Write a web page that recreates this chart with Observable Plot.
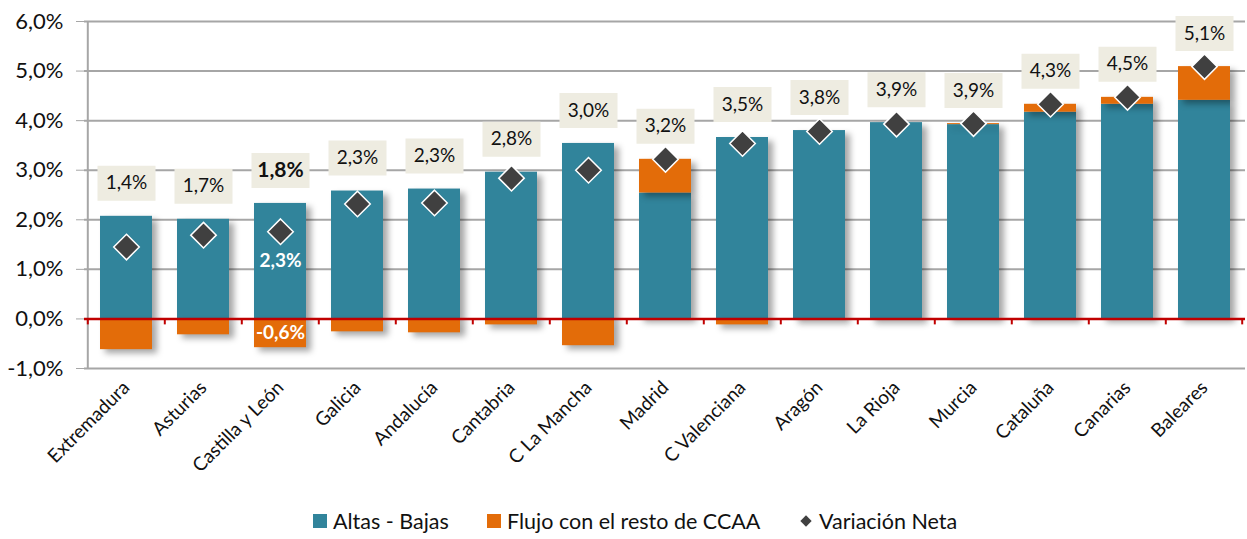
<!DOCTYPE html>
<html><head><meta charset="utf-8">
<script src="https://cdn.jsdelivr.net/npm/d3@7"></script>
<script src="https://cdn.jsdelivr.net/npm/@observablehq/plot@0.6"></script>
<style>
body{margin:0;background:#fff;font-family:Lato,"Liberation Sans",sans-serif;}
#chart{position:relative;width:1247px;height:505px;}
#chart svg g[aria-label="bar"] rect{filter:drop-shadow(5px 4px 3px rgba(0,0,0,0.35));}
.legend{position:relative;height:34px;width:1247px;font-size:21.5px;color:#111;}
.legend .it{position:absolute;top:3px;display:flex;align-items:center;white-space:nowrap;}
.legend .sw{width:14px;height:14px;margin-right:6px;display:inline-block;}
.legend .dm{width:8px;height:8px;background:#404040;transform:rotate(45deg);margin-right:9px;margin-left:3px;display:inline-block;}
</style></head>
<body>
<div id="chart"></div>
<div class="legend">
  <div class="it" style="left:313px"><span class="sw" style="background:#31849b"></span>Altas - Bajas</div>
  <div class="it" style="left:487px"><span class="sw" style="background:#e36c09"></span>Flujo con el resto de CCAA</div>
  <div class="it" style="left:799px"><span class="dm"></span>Variación Neta</div>
</div>
<script>
const regions = ["Extremadura","Asturias","Castilla y León","Galicia","Andalucía","Cantabria","C La Mancha","Madrid","C Valenciana","Aragón","La Rioja","Murcia","Cataluña","Canarias","Baleares"];
const altasBajas = [2.07, 2.01, 2.33, 2.58, 2.62, 2.96, 3.54, 2.54, 3.66, 3.80, 3.96, 3.92, 4.17, 4.33, 4.41];
const flujo      = [-0.62, -0.32, -0.58, -0.26, -0.28, -0.12, -0.54, 0.68, -0.12, -0.02, -0.02, 0.02, 0.16, 0.14, 0.68];
const netas      = [1.45, 1.69, 1.76, 2.32, 2.34, 2.84, 3.00, 3.22, 3.54, 3.78, 3.93, 3.94, 4.33, 4.47, 5.09];
const yTicks = [-1, 0, 1, 2, 3, 4, 5, 6];
const destacado = "Castilla y León";
const series = ["Altas - Bajas", "Flujo con el resto de CCAA"];
const colors = ["#31849b", "#e36c09"];

const fmt = v => v.toFixed(1).replace(".", ",") + "%";

const W = 1247, H = 505, mL = 84, mR = 2, mT = 21, mB = 137;
const step = (W - mL - mR) / regions.length;

const long = [];
regions.forEach((r, i) => long.push({region: r, serie: series[0], value: altasBajas[i]}));
regions.forEach((r, i) => long.push({region: r, serie: series[1], value: flujo[i]}));

const tops = regions.map((r, i) => ({
  region: r,
  top: altasBajas[i] + Math.max(0, flujo[i]),
  net: netas[i],
  label: fmt(netas[i]),
  bold: r === destacado
}));
const normal = tops.filter(d => !d.bold);
const bold = tops.filter(d => d.bold);
const ci = regions.indexOf(destacado);
const inner = [
  {region: destacado, y: altasBajas[ci] / 2, label: fmt(altasBajas[ci])},
  {region: destacado, y: flujo[ci] / 2, label: fmt(flujo[ci])}
];

const boxSymbol = {draw(ctx, size) { ctx.rect(-29, -17.5, 58, 35); }};

const chart = Plot.plot({
  width: W, height: H,
  marginLeft: mL, marginRight: mR, marginTop: mT, marginBottom: mB,
  style: {fontFamily: "Lato, 'Liberation Sans', sans-serif", background: "#fff", color: "#111"},
  x: {domain: regions, paddingInner: 0.33, paddingOuter: 0.165, label: null},
  y: {domain: [-1, 6], label: null},
  color: {domain: series, range: colors},
  marks: [
    Plot.ruleY(yTicks, {stroke: "#a6a6a6", strokeWidth: 2}),
    Plot.ruleX([regions[0]], {y1: -1, y2: 6, dx: -step / 2, stroke: "#a6a6a6", strokeWidth: 2}),
    Plot.axisY({ticks: yTicks, tickFormat: fmt, tickSize: 8, tickPadding: 13, fontSize: 22, stroke: "#a6a6a6"}),
    Plot.axisX({tickSize: 0, tickPadding: 16, tickRotate: -45, fontSize: 19}),
    Plot.barY(long, {x: "region", y: "value", fill: "serie"}),
    Plot.ruleY([0], {stroke: "#c00000", strokeWidth: 2.5}),
    Plot.ruleX(regions, {x: d => d, y1: 0, y2: -0.12, dx: -step / 2, stroke: "#c00000", strokeWidth: 2}),
    Plot.ruleX([regions[regions.length - 1]], {y1: 0, y2: -0.12, dx: step / 2 - 1, stroke: "#c00000", strokeWidth: 2}),
    Plot.dot(tops, {x: "region", y: "net", symbol: "diamond2", r: 11.5, fill: "#404040", stroke: "#fff", strokeWidth: 1.5}),
    Plot.dot(tops, {x: "region", y: "top", symbol: boxSymbol, r: 10, fill: "#eeece1", stroke: "none", dy: -33}),
    Plot.text(normal, {x: "region", y: "top", text: "label", dy: -33, fontSize: 19, fill: "#111"}),
    Plot.text(bold, {x: "region", y: "top", text: "label", dy: -33, fontSize: 21, fontWeight: "bold", fill: "#111"}),
    Plot.text(inner, {x: "region", y: "y", text: "label", fontSize: 19, fontWeight: "bold", fill: "#fff"})
  ]
});
document.getElementById("chart").appendChild(chart);
</script>
</body></html>
